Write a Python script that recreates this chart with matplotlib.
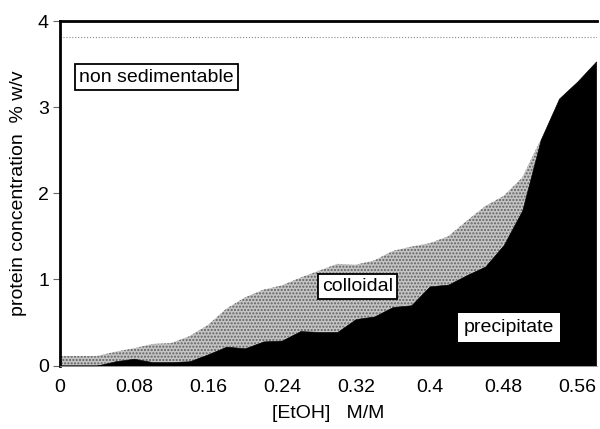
import numpy as np
import matplotlib
matplotlib.use("Agg")
import matplotlib.pyplot as plt

plt.rcParams['font.family'] = ['Liberation Sans', 'DejaVu Sans']
plt.rcParams['hatch.linewidth'] = 1.0

# ethanol concentration (M/M)
etoh = [0.00, 0.02, 0.04, 0.06, 0.08, 0.10, 0.12, 0.14, 0.16, 0.18,
        0.20, 0.22, 0.24, 0.26, 0.28, 0.30, 0.32, 0.34, 0.36, 0.38,
        0.40, 0.42, 0.44, 0.46, 0.48, 0.50, 0.52, 0.54, 0.56, 0.58]

# precipitated protein (% w/v)
precipitate = [0.00, 0.00, 0.00, 0.05, 0.08, 0.04, 0.04, 0.05, 0.13, 0.22,
               0.20, 0.28, 0.29, 0.40, 0.39, 0.39, 0.54, 0.57, 0.68, 0.70,
               0.92, 0.94, 1.05, 1.15, 1.40, 1.80, 2.62, 3.10, 3.30, 3.53]

# precipitate + colloidal (% w/v)
sedimentable = [0.11, 0.11, 0.11, 0.16, 0.20, 0.25, 0.26, 0.34, 0.47, 0.66,
                0.79, 0.88, 0.93, 1.02, 1.10, 1.18, 1.17, 1.22, 1.33, 1.38,
                1.42, 1.50, 1.68, 1.85, 1.97, 2.18, 2.62, 3.10, 3.30, 3.53]

total_protein = 3.82

x_ticks = [0, 0.08, 0.16, 0.24, 0.32, 0.4, 0.48, 0.56]
x_ticklabels = ['0', '0.08', '0.16', '0.24', '0.32', '0.4', '0.48', '0.56']

fig = plt.figure(figsize=(6, 4.29), dpi=100)
ax = fig.add_axes([0.1, 0.148, 0.895, 0.803])

# colloidal band (stippled grey)
ax.fill_between(etoh, precipitate, sedimentable, facecolor='#c4c4c4',
                edgecolor='#606060', hatch='.....', linewidth=0)
# precipitate (solid black)
ax.fill_between(etoh, 0, precipitate, facecolor='black', edgecolor='black', linewidth=0.5)

ax.axhline(total_protein, color='#888888', linestyle=':', linewidth=0.8)

ax.set_xlim(0, 0.581)
ax.set_ylim(0, 4)
ax.set_xticks(x_ticks)
ax.set_xticklabels(x_ticklabels)
ax.set_yticks([0, 1, 2, 3, 4])
ax.tick_params(axis='x', length=0, pad=10, labelsize=14)
ax.tick_params(axis='y', length=5, width=0.8, color='#666666', pad=3, labelsize=14)

ax.spines['left'].set_linewidth(2)
ax.spines['top'].set_linewidth(2)
ax.spines['right'].set_visible(False)
ax.spines['bottom'].set_linewidth(0.6)
ax.spines['bottom'].set_color('#999999')

ax.set_xlabel('[EtOH]   M/M', fontsize=14, labelpad=6)
ax.set_ylabel('protein concentration  % w/v', fontsize=14, labelpad=8)

ax.text(0.021, 3.35, 'non sedimentable', fontsize=14, va='center', ha='left',
        bbox=dict(facecolor='white', edgecolor='black', linewidth=1.3, pad=3))
ax.text(0.322, 0.92, 'colloidal', fontsize=14, va='center', ha='center',
        bbox=dict(facecolor='white', edgecolor='black', linewidth=1.3, pad=3))
ax.text(0.486, 0.44, 'precipitate', fontsize=14, va='center', ha='center',
        bbox=dict(facecolor='white', edgecolor='none', pad=4))

fig.savefig('out.png', dpi=100)
